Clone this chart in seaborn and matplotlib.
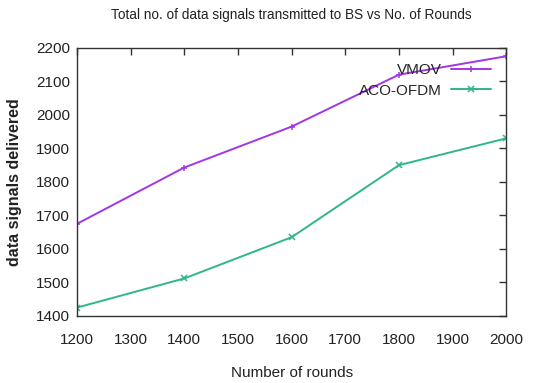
import matplotlib
matplotlib.use("Agg")
import matplotlib.pyplot as plt
import seaborn as sns
import pandas as pd

rounds = [1200, 1400, 1600, 1800, 2000]
vmov = [1675, 1843, 1965, 2120, 2175]
aco_ofdm = [1425, 1512, 1635, 1850, 1930]
series_names = ["VMOV", "ACO-OFDM"]
x_ticks = [1200, 1300, 1400, 1500, 1600, 1700, 1800, 1900, 2000]
y_ticks = [1400, 1500, 1600, 1700, 1800, 1900, 2000, 2100, 2200]

sns.set_theme(style="white")
plt.rcParams['font.family'] = ['Liberation Sans', 'DejaVu Sans']

fig = plt.figure(figsize=(5.42, 3.83), dpi=100)
ax = fig.add_axes([0.142, 0.175, 0.792, 0.70])

colors = ["#a335e6", "#2fb68a"]
markers = ["+", "x"]
for name, vals, c, m in zip(series_names, [vmov, aco_ofdm], colors, markers):
    df = pd.DataFrame({"rounds": rounds, "value": vals})
    sns.lineplot(data=df, x="rounds", y="value", ax=ax, color=c, marker=m,
                 markersize=5, markeredgewidth=1.1, markeredgecolor=c,
                 markerfacecolor=c, linewidth=1.4, label=name)

ax.set_xlim(1200, 2000)
ax.set_ylim(1400, 2200)
ax.set_xticks(x_ticks)
ax.set_yticks(y_ticks)
ax.tick_params(direction="in", length=5, width=1, top=True, right=True,
               labelsize=11, colors="#333333", pad=5)
ax.tick_params(axis="x", pad=12)
for lbl in ax.get_xticklabels() + ax.get_yticklabels():
    lbl.set_color("#222222")
for s in ax.spines.values():
    s.set_color("#333333")
    s.set_linewidth(1.0)

ax.set_xlabel("Number of rounds", fontsize=11, labelpad=14, color="#222222")
ax.set_ylabel("data signals delivered", fontsize=11.5, fontweight="bold",
              labelpad=10, color="#222222")
ax.set_title("Total no. of data signals transmitted to BS vs No. of Rounds",
             fontsize=9.8, pad=21, color="#222222")

leg = ax.legend(loc="upper right", frameon=False, markerfirst=False,
                fontsize=11, handlelength=2.6, bbox_to_anchor=(0.997, 0.995),
                labelspacing=0.45, handletextpad=0.6)
for t in leg.get_texts():
    t.set_ha("right")

fig.savefig("out.png", dpi=100)
